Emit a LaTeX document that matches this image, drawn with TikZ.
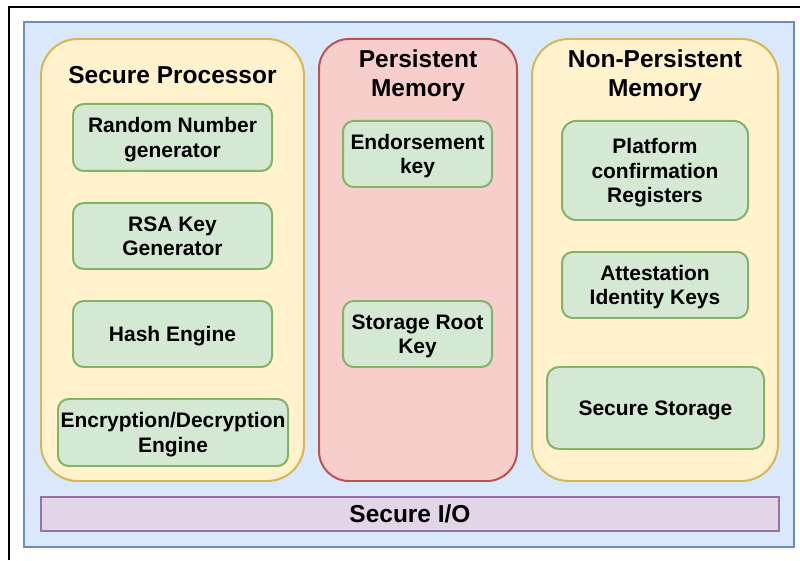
\documentclass[tikz,border=0pt]{standalone}
\usepackage{fontspec}
\setmainfont{Liberation Sans}
\definecolor{boardfill}{HTML}{DAE8FC}
\definecolor{boardline}{HTML}{6C8EBF}
\definecolor{groupfill}{HTML}{FFF2CC}
\definecolor{groupline}{HTML}{D6B656}
\definecolor{memfill}{HTML}{F8CECC}
\definecolor{memline}{HTML}{B85450}
\definecolor{unitfill}{HTML}{D5E8D4}
\definecolor{unitline}{HTML}{82B366}
\definecolor{iofill}{HTML}{E1D5E7}
\definecolor{ioline}{HTML}{9673A6}
\newcommand{\unitfnt}{\fontsize{17.9}{20.9}\selectfont\bfseries}
\newcommand{\headfnt}{\fontsize{20.9}{24.7}\selectfont\bfseries}
\tikzset{
  board/.style={draw=boardline, fill=boardfill, line width=1.7pt, inner sep=0pt},
  group/.style={draw=groupline, fill=groupfill, line width=1.7pt, rounded corners=1.1cm, inner sep=0pt},
  unit/.style={draw=unitline, fill=unitfill, line width=1.7pt, rounded corners=0.32cm,
    inner sep=0pt, align=center, text depth=0pt, font=\unitfnt},
  heading/.style={align=center, font=\headfnt, inner sep=0pt}
}
\begin{document}
\begin{tikzpicture}
  \useasboundingbox (0, 0) rectangle (24, 16.8);
  \draw [line width = 1.2pt] (0.27, 0) -- (0.27, 16.59) -- (24, 16.59);

  \node [board, minimum width = 23.10cm, minimum height = 15.75cm] (tpm) at (12.27, 8.265) {};

  % the three blocks
  \node [group, minimum width = 7.89cm, minimum height = 13.26cm] (proc) at (5.175, 9.0) {};
  \node [group, draw = memline, fill = memfill, rounded corners = 0.9cm,
    minimum width = 5.94cm, minimum height = 13.26cm] (pmem) at (12.54, 9.0) {};
  \node [group, minimum width = 7.38cm, minimum height = 13.26cm] (npmem) at (19.65, 9.0) {};
  \node [heading] (proctitle) at (5.175, 14.54) {Secure Processor};
  \node [heading] (pmemtitle) at (12.54, 14.52) {Persistent\\Memory};
  \node [heading] (npmemtitle) at (19.65, 14.52) {Non-Persistent\\Memory};

  % secure processor
  \node [unit, minimum width = 5.97cm, minimum height = 2.01cm] (rng) at (5.175, 12.675) {Random Number\\generator};
  \node [unit, minimum width = 5.97cm, minimum height = 1.98cm] (rsa) at (5.175, 9.72) {RSA Key\\Generator};
  \node [unit, minimum width = 5.97cm, minimum height = 1.98cm] (hash) at (5.175, 6.78) {Hash Engine};
  \node [unit, minimum width = 6.90cm, minimum height = 2.01cm] (crypt) at (5.19, 3.825) {Encryption/Decryption\\Engine};

  % persistent memory
  \node [unit, minimum width = 4.47cm, minimum height = 1.98cm] (ek) at (12.525, 12.18) {Endorsement\\key};
  \node [unit, minimum width = 4.47cm, minimum height = 1.98cm] (srk) at (12.525, 6.78) {Storage Root\\Key};

  % non-persistent memory
  \node [unit, rounded corners = 0.42cm, minimum width = 5.58cm, minimum height = 2.97cm] (pcr) at (19.65, 11.685) {Platform\\confirmation\\Registers};
  \node [unit, minimum width = 5.58cm, minimum height = 1.98cm] (aik) at (19.65, 8.25) {Attestation\\Identity Keys};
  \node [unit, rounded corners = 0.36cm, minimum width = 6.51cm, minimum height = 2.46cm] (store) at (19.665, 4.56) {Secure Storage};

  \node [board, draw = ioline, fill = iofill, font = \headfnt,
    minimum width = 22.14cm, minimum height = 1.02cm] (io) at (12.30, 1.38) {Secure I/O};
\end{tikzpicture}
\end{document}
